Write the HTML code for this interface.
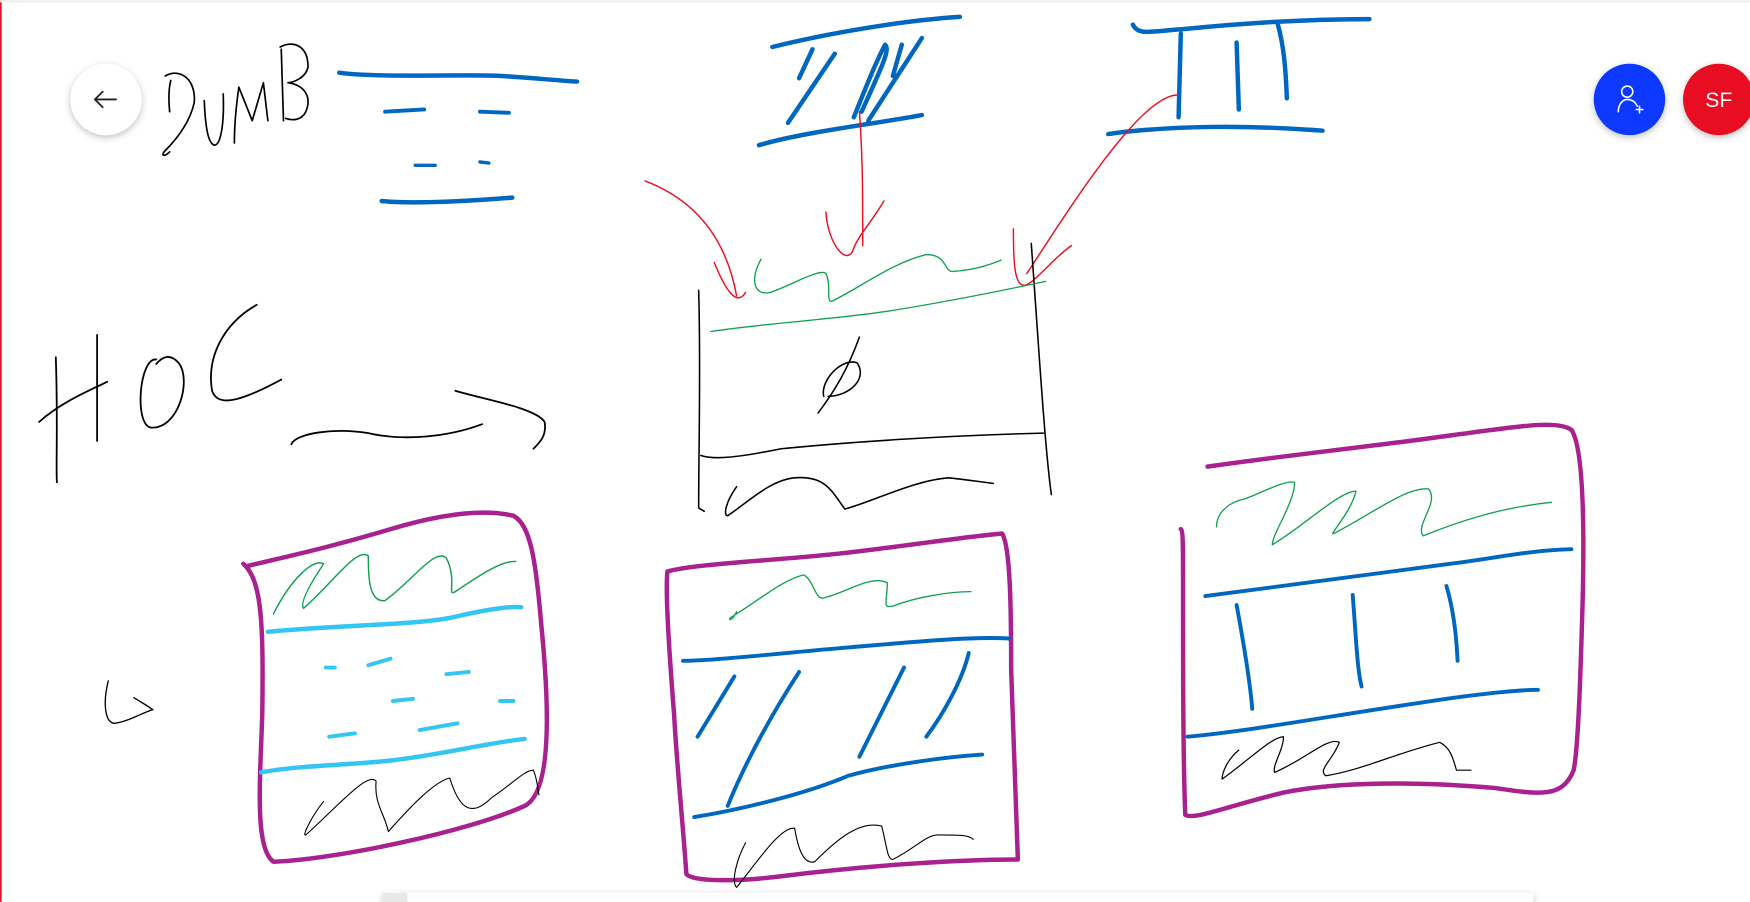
<!DOCTYPE html>
<html><head><meta charset="utf-8"><style>
html,body{margin:0;padding:0;width:1750px;height:902px;overflow:hidden;background:#fff;font-family:"Liberation Sans",sans-serif}
svg{display:block}
</style></head><body>
<svg width="1750" height="902" viewBox="0 0 1568 808" xmlns="http://www.w3.org/2000/svg" fill="none" stroke-linecap="round" stroke-linejoin="round">
<defs><filter id="sh" x="-30%" y="-30%" width="160%" height="160%"><feDropShadow dx="0" dy="2" stdDeviation="3" flood-color="#000" flood-opacity="0.25"/></filter></defs>
<rect x="0" y="0" width="1.5" height="808" fill="#e81123" stroke="none"/>
<rect x="0" y="0" width="1568" height="2" fill="#eee" stroke="none"/>

<g>
<circle cx="95" cy="89" r="32" fill="#fff" filter="url(#sh)" stroke="none"/>
<path d="M104 89 H85 M92 82 L85 89 L92 96" stroke="#222" stroke-width="1.6"/>
</g>

<g stroke="#000" stroke-width="1.5">
<path d="M152 100 C151 90 151 80 153 72 M148 68 C162 60 176 72 174 92 C170 110 158 125 147 136 C144 140 148 140 152 136"/>
<path d="M183 90 C184 112 186 128 192 130 C198 130 201 110 200 84"/>
<path d="M210 128 C210 110 212 92 214 78 L226 108 L236 74 L240 108"/>
<path d="M252 44 L254 108 M251 42 C262 36 276 40 276 60 C274 70 262 74 258 74 C272 76 280 86 274 100 C270 108 262 108 256 106"/>
</g>

<g stroke="#0067c0" stroke-width="4">
<path d="M304 65 C340 70 420 66 450 68 C480 70 500 72 517 73"/>
<path d="M345 100 L380 98 M430 100 L456 101" stroke-width="3.5"/>
<path d="M372 148 L390 148 M430 145 L438 146" stroke-width="3"/>
<path d="M342 180 C370 183 420 180 459 177"/>
</g>

<g stroke="#0067c0" stroke-width="4">
<path d="M692 42 C740 30 810 18 860 15"/>
<path d="M716 70 L728 44 M706 110 L748 48 M765 105 C775 80 785 55 793 40 C798 44 790 60 772 100 M778 108 L826 34 M800 68 L808 40"/>
<path d="M680 130 C720 118 790 110 826 103"/>
</g>

<g stroke="#0067c0" stroke-width="4">
<path d="M1015 22 C1020 32 1030 28 1060 26 C1120 20 1180 17 1227 17"/>
<path d="M1058 30 L1056 105 M1108 38 L1110 98 M1145 22 C1150 40 1152 60 1153 88"/>
<path d="M993 120 C1050 112 1120 112 1185 117"/>
</g>

<g stroke="#e81123" stroke-width="1.3">
<path d="M578 162 C620 178 650 210 660 265 M640 235 C650 260 660 275 668 262"/>
<path d="M770 100 C773 140 773 170 773 220 M740 190 C742 220 760 240 765 222 C770 210 780 200 792 180"/>
<path d="M1055 85 C1020 85 950 200 920 245 M908 205 C908 230 908 260 920 255 C930 250 945 230 960 220"/>
</g>

<g stroke="#000" stroke-width="1.4">
<path d="M626 260 C628 330 626 400 626 455 L631 458"/>
<path d="M924 218 C930 300 936 400 942 443"/>
<path d="M628 408 C640 412 660 410 700 402 C760 396 850 390 935 388"/>
<path d="M770 302 C760 330 748 350 733 370 M738 355 C735 340 755 320 768 325 C778 340 760 355 742 355"/>
<path d="M660 436 C650 450 648 462 652 462 C670 450 690 430 712 428 C740 426 745 440 757 456 C780 450 820 430 850 428 C870 430 880 432 890 433"/>
<path d="M637 297 C680 290 760 285 800 278 C850 270 890 262 937 252" stroke="#11a050" stroke-width="1.2"/>
<path d="M682 232 C672 250 675 265 690 262 C710 255 735 240 740 245 C745 255 740 270 745 270 C770 258 800 235 830 228 C850 228 845 245 855 243 C870 242 885 238 897 233" stroke="#11a050" stroke-width="1.2"/>
</g>

<g stroke="#000" stroke-width="1.6">
<path d="M50 320 C52 380 50 420 51 432 M35 378 C55 360 80 350 96 342 M87 300 L87 395"/>
<path d="M140 322 C125 320 120 380 135 383 C160 385 172 340 160 325 C152 316 145 320 140 326"/>
<path d="M230 273 C200 290 185 320 190 350 C195 365 215 360 252 340"/>
<path d="M261 398 C265 388 300 383 330 388 C360 395 400 392 432 380 M408 350 C430 357 480 365 488 378 C490 390 484 396 478 402"/>
</g>

<path d="M97 610 C92 630 94 648 103 648 C115 646 125 640 136 636 M120 625 C128 630 135 634 137 636" stroke="#000" stroke-width="1.2"/>

<g>
<path d="M218 505 C235 520 236 560 235 640 C233 700 228 760 245 772 C300 770 420 745 470 722 C495 710 492 630 485 560 C480 500 475 470 460 462 C430 455 390 462 350 474 C290 492 250 500 222 507" stroke="#a8218e" stroke-width="4"/>
<path d="M245 550 C260 520 280 500 290 505 C280 520 268 540 272 545 C300 520 320 490 330 498 C330 515 330 540 345 538 C370 520 390 490 400 500 C410 520 400 535 408 530 C430 515 450 502 462 503" stroke="#11a050" stroke-width="1.3"/>
<path d="M240 566 C300 560 380 560 410 552 C440 545 460 543 467 544" stroke="#33c6f4" stroke-width="4"/>
<path d="M292 598 L300 598 M330 596 L350 590 M400 604 L420 602 M352 628 L370 626 M448 628 L460 628 M295 660 L318 657 M376 654 L410 648" stroke="#33c6f4" stroke-width="3.5"/>
<path d="M234 692 C270 685 330 685 360 680 C400 675 440 665 470 662" stroke="#33c6f4" stroke-width="4"/>
<path d="M290 718 C280 730 270 750 274 748 C300 725 330 690 337 700 C335 720 345 730 348 745 C370 720 390 700 403 697 C410 720 420 735 440 715 C462 700 470 690 478 690 C482 700 482 710 483 712" stroke="#000" stroke-width="1"/>
</g>

<g>
<path d="M598 512 C620 505 700 502 760 495 C820 488 870 480 898 478 C905 490 906 540 906 600 C908 660 910 720 912 770 C860 770 780 775 700 785 C660 790 620 790 615 783 C612 740 606 680 604 640 C600 590 596 530 598 512" stroke="#a8218e" stroke-width="4"/>
<path d="M660 548 C655 558 652 555 655 553 C680 538 700 520 720 515 C730 520 730 540 740 535 C760 530 780 515 795 522 C795 540 790 545 800 543 C820 535 850 530 870 530" stroke="#11a050" stroke-width="1.2"/>
<path d="M612 592 C640 592 700 585 760 580 C820 575 870 570 904 572" stroke="#0067c0" stroke-width="3.5"/>
<path d="M625 660 L658 606 M652 722 C665 690 685 650 716 602 M770 678 L810 598 M830 660 C845 640 862 610 868 585" stroke="#0067c0" stroke-width="3.5"/>
<path d="M622 732 C660 726 720 712 760 695 C800 684 850 678 880 676" stroke="#0067c0" stroke-width="3.5"/>
<path d="M668 755 C660 770 655 790 660 795 C680 770 700 740 712 742 C715 760 720 775 730 772 C750 752 770 735 790 740 C795 760 795 770 800 770 C820 760 830 748 840 748 C860 748 868 748 872 752" stroke="#000" stroke-width="1"/>
</g>

<g>
<path d="M1082 418 C1150 408 1230 400 1300 390 C1360 382 1395 376 1408 385 C1418 400 1420 460 1418 540 C1416 610 1414 670 1410 690 C1400 715 1380 712 1340 706 C1270 700 1200 700 1150 710 C1100 722 1070 735 1062 730 C1060 680 1060 600 1060 520 C1060 490 1060 475 1058 474" stroke="#a8218e" stroke-width="4"/>
<path d="M1090 472 C1090 460 1100 450 1115 447 C1130 442 1150 430 1160 432 C1160 450 1140 478 1140 488 C1170 470 1200 440 1215 440 C1210 460 1190 480 1195 478 C1230 460 1260 436 1280 438 C1290 450 1268 470 1275 480 C1300 470 1340 455 1390 450" stroke="#11a050" stroke-width="1.2"/>
<path d="M1080 534 C1150 525 1220 515 1300 505 C1340 500 1370 493 1408 492" stroke="#0067c0" stroke-width="3.5"/>
<path d="M1108 542 C1115 580 1120 610 1122 635 M1212 533 C1215 570 1216 600 1220 615 M1296 525 C1302 545 1305 570 1306 592" stroke="#0067c0" stroke-width="3.5"/>
<path d="M1064 660 C1120 655 1200 640 1270 630 C1320 622 1360 618 1378 618" stroke="#0067c0" stroke-width="3.5"/>
<path d="M1110 672 C1100 680 1095 692 1095 698 C1120 680 1140 660 1150 660 C1150 672 1140 685 1142 692 C1170 680 1190 660 1200 665 C1195 680 1180 690 1188 695 C1220 690 1250 675 1290 665 C1300 670 1302 680 1305 690 C1310 690 1315 690 1318 690" stroke="#000" stroke-width="1.1"/>
</g>

<g>
<circle cx="1460" cy="89" r="32" fill="#0c39ff" stroke="none" filter="url(#sh)"/>
<circle cx="1458" cy="82" r="5" stroke="#fff" stroke-width="1.4"/>
<path d="M1450 100 C1450 92 1455 89 1458 89 C1462 89 1465 91 1467 95" stroke="#fff" stroke-width="1.4"/>
<path d="M1466 98 H1472 M1469 95 V101" stroke="#fff" stroke-width="1.4"/>
</g>
<g>
<circle cx="1540" cy="89" r="32" fill="#e81123" stroke="none" filter="url(#sh)"/>
<text x="1540" y="96" text-anchor="middle" fill="#fff" stroke="none" font-family="Liberation Sans, sans-serif" font-size="19">SF</text>
</g>

<g>
<rect x="343" y="800" width="1031" height="20" fill="#fff" stroke="none" filter="url(#sh)"/>
<rect x="343" y="800" width="22" height="20" fill="#e8e8e8" stroke="none"/>
</g>
</svg>
</body></html>
